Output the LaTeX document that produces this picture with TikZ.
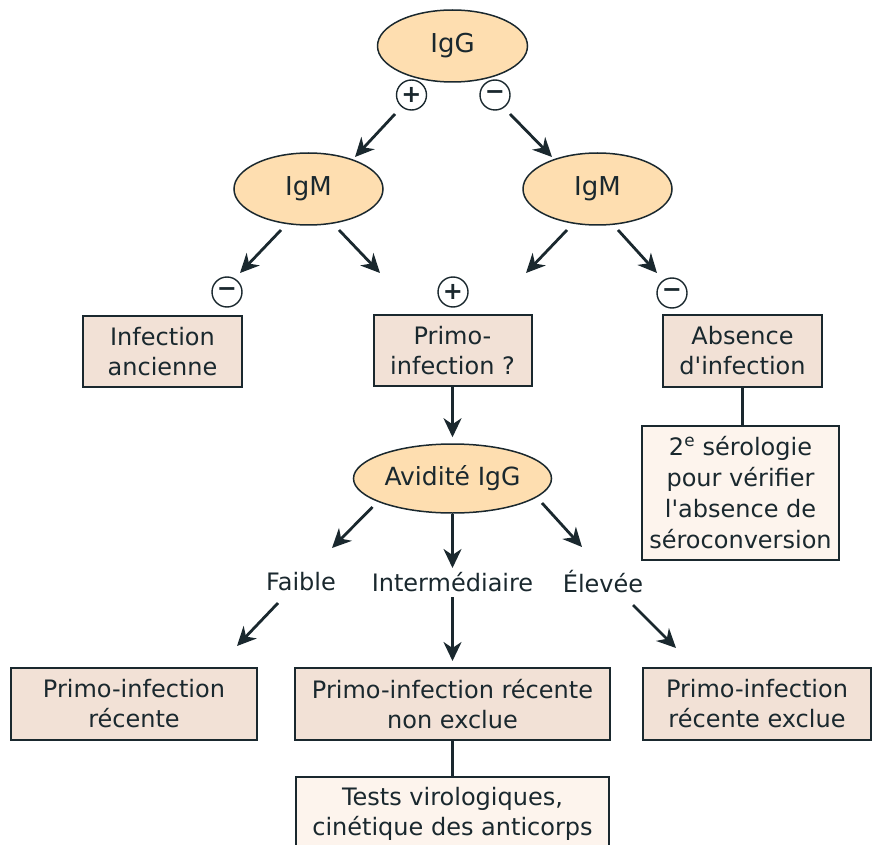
\documentclass[tikz,border=0pt]{standalone}
\usepackage{fontspec}
\setmainfont{DejaVu Sans}
\usetikzlibrary{arrows.meta,shapes.geometric}
\definecolor{ink}{RGB}{26,40,46}
\definecolor{ellfill}{RGB}{254,222,176}
\definecolor{boxfill}{RGB}{242,225,214}
\definecolor{lightfill}{RGB}{253,244,237}
\begin{document}
\begin{tikzpicture}[x=1pt,y=-1pt,
  every node/.style={text=ink, font=\fontsize{24}{30}\selectfont},
  ell/.style={ellipse, draw=ink, line width=1.5pt, fill=ellfill, inner sep=0pt, minimum width=150pt, minimum height=72pt, font=\fontsize{26}{30}\selectfont},
  rbox/.style={rectangle, draw=ink, line width=2pt, fill=boxfill, align=center, inner sep=0pt},
  lbox/.style={rbox, fill=lightfill},
  sgn/.style={circle, draw=ink, line width=1.4pt, fill=white, inner sep=0pt, minimum size=30pt, font=\fontsize{24}{24}\selectfont\bfseries},
  arr/.style={draw=ink, line width=2.8pt, -{Stealth[length=19pt,width=18pt,inset=6pt]}},
  con/.style={draw=ink, line width=2.8pt},
  lbl/.style={inner sep=0pt}
]
\useasboundingbox (0,0) rectangle (878,845);
\node[ell] (igg) at (452.5,46) {IgG};
\node[sgn] (sa) at (411.5,95) {+};
\node[sgn] (sb) at (495,95) {−};
\node[ell, minimum width=149pt] (igmL) at (308.5,189) {IgM};
\node[ell, minimum width=149pt] (igmR) at (597.5,189) {IgM};
\node[sgn] (sc) at (227,292) {−};
\node[sgn] (sd) at (453,292) {+};
\node[sgn] (se) at (672,293) {−};
\node[rbox, minimum width=159pt, minimum height=71pt] (anc) at (162.5,351.5) {Infection\\ancienne};
\node[rbox, minimum width=158pt, minimum height=71pt] (primo) at (452.5,350.5) {Primo-\\infection ?};
\node[rbox, minimum width=159pt, minimum height=72pt] (abs) at (742.5,351) {Absence\\d\textquotesingle infection};
\node[lbox, minimum width=197pt, minimum height=134pt, font=\fontsize{24}{31}\selectfont] (sero) at (740.5,493) {2\textsuperscript{e} sérologie\\pour vérifier\\l\textquotesingle absence de\\séroconversion};
\node[ell, minimum width=198pt, minimum height=69pt, font=\fontsize{25}{30}\selectfont] (avid) at (452.5,478.5) {Avidité IgG};
\node[lbl] (faible) at (301,582) {Faible};
\node[lbl] (inter) at (452.5,582) {Intermédiaire};
\node[lbl] (elev) at (603,582) {Élevée};
\node[rbox, minimum width=246pt, minimum height=72pt] (rec) at (134,704) {Primo-infection\\récente};
\node[rbox, minimum width=315pt, minimum height=72pt] (nonex) at (452.5,704) {Primo-infection récente\\non exclue};
\node[rbox, minimum width=228pt, minimum height=72pt] (excl) at (757,704) {Primo-infection\\récente exclue};
\node[lbox, minimum width=313pt, minimum height=74pt] (tests) at (452.5,814) {Tests virologiques,\\cinétique des anticorps};
\draw[arr] ([shift={(-16.5,19)}]sa.center) -- ([shift={(46.5,-32)}]igmL.center);
\draw[arr] ([shift={(15,19)}]sb.center) -- ([shift={(-45.5,-32)}]igmR.center);
\draw[arr] ([shift={(-27.5,41)}]igmL.center) -- ([shift={(13,-19)}]sc.center);
\draw[arr] ([shift={(30.5,41)}]igmL.center) -- ([shift={(-72.5,-77.5)}]primo.center);
\draw[arr] ([shift={(-30.5,41)}]igmR.center) -- ([shift={(73.5,-77.5)}]primo.center);
\draw[arr] ([shift={(20.5,41)}]igmR.center) -- ([shift={(-15,-20)}]se.center);
\draw[arr] (primo.south) -- ([shift={(0,-6)}]avid.north);
\draw[arr] ([shift={(-80,28.5)}]avid.center) -- ([shift={(31,-34)}]faible.center);
\draw[arr] (avid.south) -- ([shift={(0,-14)}]inter.center);
\draw[arr] ([shift={(89.5,24.5)}]avid.center) -- ([shift={(-21,-35)}]elev.center);
\draw[arr] ([shift={(-23,21)}]faible.center) -- ([shift={(103,-58)}]rec.center);
\draw[arr] ([shift={(0,15)}]inter.center) -- ([shift={(0,-6)}]nonex.north);
\draw[arr] ([shift={(30,23)}]elev.center) -- ([shift={(-81,-56)}]excl.center);
\draw[con] (abs.south) -- (abs.south |- sero.north);
\draw[con] (nonex.south) -- (tests.north);
\end{tikzpicture}
\end{document}
